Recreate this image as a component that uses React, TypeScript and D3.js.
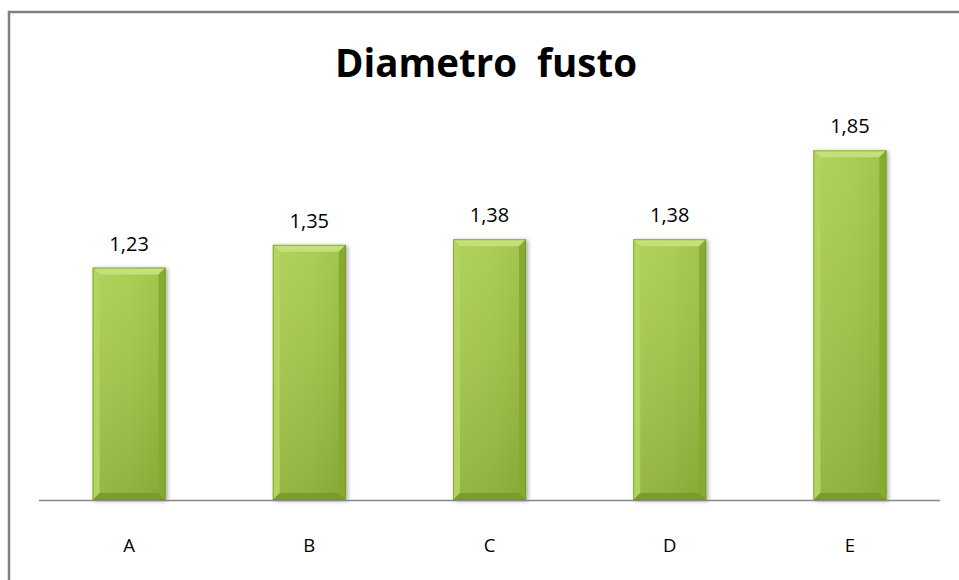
import React from "react";
import * as d3 from "d3";

const categories = ["A", "B", "C", "D", "E"];
const values = [1.23, 1.35, 1.38, 1.38, 1.85];
const valueLabels = ["1,23", "1,35", "1,38", "1,38", "1,85"];
const title = "Diametro  fusto";

const W = 959;
const H = 580;

export default function App() {
  const x = d3.scaleBand<string>().domain(categories).range([39, 940]).paddingInner(0.595).paddingOuter(0.2975);
  const y = d3.scaleLinear().domain([0, 2]).range([500, 122]);
  const bw = x.bandwidth();
  const bev = 7;

  return (
    <svg width={W} height={H} style={{ position: "absolute", left: 0, top: 0 }} fontFamily="'Open Sans', 'Noto Sans', sans-serif">
      <defs>
        <linearGradient id="face" x1="0" y1="0" x2="1" y2="0">
          <stop offset="0" stopColor="#a9cf4f" />
          <stop offset="0.5" stopColor="#a3ca47" />
          <stop offset="1" stopColor="#97bf3c" />
        </linearGradient>
        <linearGradient id="faceV" x1="0" y1="0" x2="0" y2="1">
          <stop offset="0" stopColor="#ffffff" stopOpacity="0.08" />
          <stop offset="1" stopColor="#000000" stopOpacity="0.12" />
        </linearGradient>
        <filter id="sh" x="-20%" y="-5%" width="140%" height="110%">
          <feGaussianBlur in="SourceAlpha" stdDeviation="2" />
          <feOffset dx="2" dy="1" result="b" />
          <feComponentTransfer><feFuncA type="linear" slope="0.35" /></feComponentTransfer>
          <feMerge><feMergeNode /><feMergeNode in="SourceGraphic" /></feMerge>
        </filter>
      </defs>
      <rect x={0} y={0} width={W} height={H} fill="#ffffff" />
      <rect x={9} y={12} width={W + 20} height={H + 20} fill="none" stroke="#808080" strokeWidth={2.5} />
      <text x={486} y={77} textAnchor="middle" fontSize={38.5} fontWeight="bold" fill="#000" style={{ whiteSpace: "pre" }}>{title}</text>
      {categories.map((c, i) => {
        const x0 = x(c)!;
        const x1 = x0 + bw;
        const y0 = y(values[i]);
        const y1 = y(0);
        return (
          <g key={c}>
            <g filter="url(#sh)">
              <rect x={x0} y={y0} width={bw} height={y1 - y0} fill="url(#face)" />
            </g>
            <rect x={x0} y={y0} width={bw} height={y1 - y0} fill="url(#faceV)" />
            {/* top bevel */}
            <polygon points={`${x0},${y0} ${x1},${y0} ${x1 - bev},${y0 + bev} ${x0 + bev},${y0 + bev}`} fill="#c4e07a" />
            {/* left bevel */}
            <polygon points={`${x0},${y0} ${x0 + bev},${y0 + bev} ${x0 + bev},${y1 - bev} ${x0},${y1}`} fill="#b2d561" />
            {/* right bevel */}
            <polygon points={`${x1},${y0} ${x1},${y1} ${x1 - bev},${y1 - bev} ${x1 - bev},${y0 + bev}`} fill="#86ab2e" />
            {/* bottom bevel */}
            <polygon points={`${x0},${y1} ${x0 + bev},${y1 - bev} ${x1 - bev},${y1 - bev} ${x1},${y1}`} fill="#7a9c28" />
            <rect x={x0 + 0.5} y={y0 + 0.5} width={bw - 1} height={y1 - y0 - 1} fill="none" stroke="#6e8f22" strokeWidth={1} strokeOpacity={0.6} />
            <text x={x0 + bw / 2} y={y0 - 17} textAnchor="middle" fontSize={20} fill="#000">{valueLabels[i]}</text>
            <text x={x0 + bw / 2} y={552} textAnchor="middle" fontSize={18.5} fill="#000">{c}</text>
          </g>
        );
      })}
      <line x1={39} x2={940} y1={500.5} y2={500.5} stroke="#878787" strokeWidth={1.5} />
    </svg>
  );
}
